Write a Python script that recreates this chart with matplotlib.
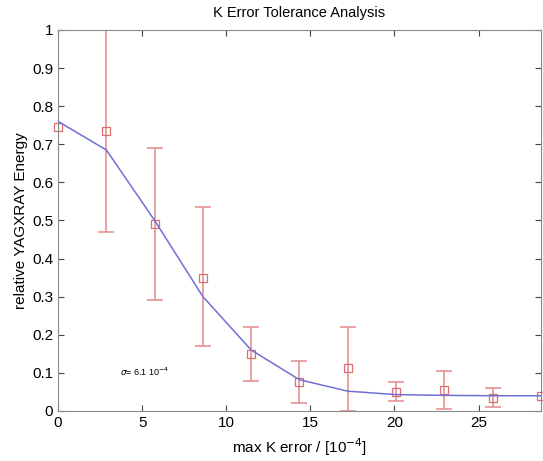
import matplotlib
matplotlib.use('Agg')
import numpy as np
import matplotlib.pyplot as plt

plt.rcParams['font.family'] = ['Liberation Sans', 'DejaVu Sans']

# data
kerr = [0, 2.87, 5.74, 8.61, 11.48, 14.35, 17.22, 20.09, 22.96, 25.83, 28.7]
energy = [0.745, 0.735, 0.49, 0.35, 0.15, 0.075, 0.112, 0.05, 0.055, 0.035, 0.04]
err_lo = [0.0, 0.265, 0.20, 0.18, 0.07, 0.055, 0.112, 0.025, 0.05, 0.025, 0.0]
err_hi = [0.0, 0.30, 0.20, 0.185, 0.07, 0.055, 0.108, 0.025, 0.05, 0.025, 0.0]
fit = [0.76, 0.685, 0.50, 0.30, 0.16, 0.082, 0.052, 0.043, 0.041, 0.04, 0.04]
xticks = [0, 5, 10, 15, 20, 25]
yticks = [0, 0.1, 0.2, 0.3, 0.4, 0.5, 0.6, 0.7, 0.8, 0.9, 1]
yticklabels = ['0', '0.1', '0.2', '0.3', '0.4', '0.5', '0.6', '0.7', '0.8', '0.9', '1']

fig = plt.figure(figsize=(5.43, 4.61), dpi=100)
ax = fig.add_axes([0.107, 0.1085, 0.889, 0.8265])

ax.plot(kerr, fit, color='#6f6fd6', lw=1.1, zorder=3)
# error bars only where they have a length
idx = [i for i in range(len(kerr)) if err_lo[i] > 0 or err_hi[i] > 0]
ax.errorbar([kerr[i] for i in idx], [energy[i] for i in idx],
            yerr=[[err_lo[i] for i in idx], [err_hi[i] for i in idx]], fmt='none',
            ecolor='#e08a88', elinewidth=1.1, capsize=6, capthick=1.1, zorder=2)
ax.plot(kerr, energy, 's', mfc='none', mec='#d9706f', ms=5.5, mew=0.9,
        zorder=2, clip_on=False)

ax.set_xlim(0, 28.7)
ax.set_ylim(0, 1)
ax.set_xticks(xticks)
ax.set_yticks(yticks)
ax.set_yticklabels(yticklabels)
ax.tick_params(direction='in', top=True, right=True, labelsize=11, colors='#444444',
               labelcolor='black', length=4)
for s in ax.spines.values():
    s.set_color('#888888')

ax.set_xlabel('max K error / [10$^{-4}$]', fontsize=11, labelpad=5)
ax.set_ylabel('relative YAGXRAY Energy', fontsize=11, labelpad=3)
ax.set_title('K Error Tolerance Analysis', fontsize=10.5, pad=9)
ax.text(3.7, 0.092, '$\\sigma$= 6.1 10$^{-4}$', fontsize=6.5)

fig.savefig('out.png', dpi=100)
